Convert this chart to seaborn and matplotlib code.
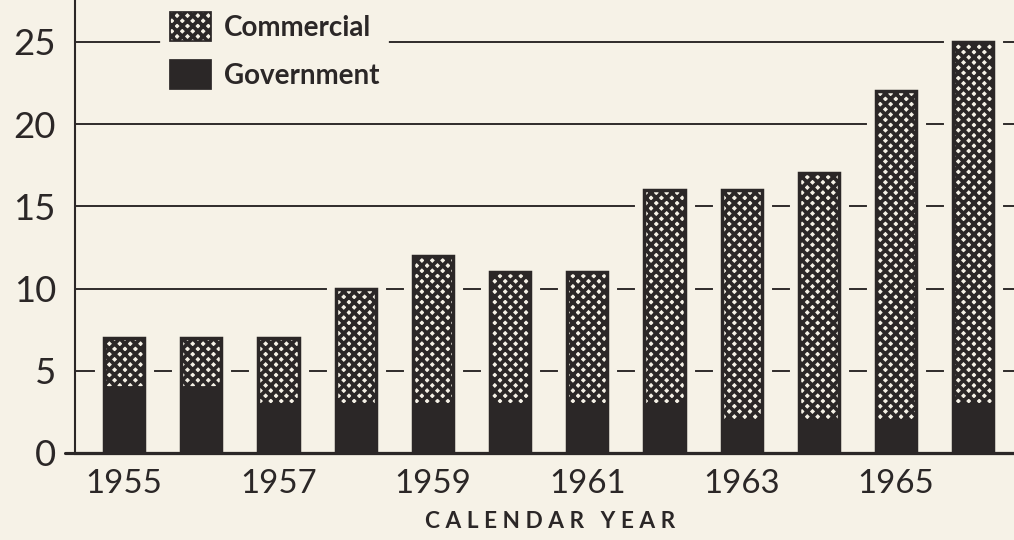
import matplotlib
matplotlib.use("Agg")
import matplotlib.pyplot as plt
from matplotlib.patches import Patch
import seaborn as sns
import pandas as pd

# data
years = [1955, 1956, 1957, 1958, 1959, 1960, 1961, 1962, 1963, 1964, 1965, 1966]
government = [4, 4, 3, 3, 3, 3, 3, 3, 2, 2, 2, 3]
commercial = [3, 3, 4, 7, 9, 8, 8, 13, 14, 15, 20, 22]
year_labels = ["1955", "1957", "1959", "1961", "1963", "1965"]
y_ticks = [0, 5, 10, 15, 20, 25]

bg = "#f6f2e7"
dark = "#2b2727"

df = pd.DataFrame({"year": [str(y) for y in years],
                   "government": government,
                   "commercial": commercial})
df["total"] = df["government"] + df["commercial"]

sns.set_theme(style="white")
plt.rcParams["font.family"] = ["Lato", "DejaVu Sans"]
plt.rcParams["hatch.linewidth"] = 2.15

fig = plt.figure(figsize=(8.12, 4.32), dpi=125, facecolor=bg)
ax = fig.add_axes([75 / 1015, 87 / 540, 940 / 1015, 453 / 540])
ax.set_facecolor(bg)

# halo behind each bar so the grid lines stop short of it
sns.barplot(data=df, x="year", y="total", color=bg, width=0.52, errorbar=None,
            edgecolor=bg, linewidth=11, saturation=1, ax=ax)
# commercial (hatched), stacked on top of government
sns.barplot(data=df, x="year", y="total", color=bg, width=0.52, errorbar=None,
            edgecolor=dark, linewidth=2.0, hatch="xxxx", saturation=1, ax=ax)
sns.barplot(data=df, x="year", y="government", color=dark, width=0.52, errorbar=None,
            edgecolor=dark, linewidth=1.0, saturation=1, ax=ax)

ax.set_xlim(-0.635, 11.54)
ax.set_ylim(0, 27.55)
ax.set_axisbelow(True)
ax.yaxis.grid(True, color=dark, linewidth=1.1)
ax.xaxis.grid(False)

ax.set_yticks(y_ticks)
ax.set_yticklabels([str(t) for t in y_ticks])
ax.set_xticks([years.index(int(y)) for y in year_labels])
ax.set_xticklabels(year_labels)
ax.tick_params(axis="y", length=0, pad=11, labelsize=21, labelcolor=dark)
ax.tick_params(axis="x", length=0, pad=9, labelsize=19, labelcolor=dark)
ax.set_xlabel("")
ax.set_ylabel("")

for s in ["top", "right"]:
    ax.spines[s].set_visible(False)
ax.spines["left"].set_color(dark)
ax.spines["left"].set_linewidth(1.2)
ax.spines["bottom"].set_color(dark)
ax.spines["bottom"].set_linewidth(1.8)
ax.spines["bottom"].set_zorder(5)
ax.axhline(0, xmin=-10 / 940, xmax=1, color=dark, linewidth=1.8, clip_on=False, zorder=5)

handles = [Patch(facecolor=bg, edgecolor=dark, hatch="xxxx", linewidth=1.0, label="Commercial"),
           Patch(facecolor=dark, edgecolor=dark, label="Government")]
leg = ax.legend(handles=handles, loc="upper left", bbox_to_anchor=(0.077, 1.022),
                frameon=True, facecolor=bg, edgecolor=bg, framealpha=1,
                fancybox=False, handlelength=1.5, handleheight=1.2,
                handletextpad=0.45, labelspacing=0.7, borderpad=0.3,
                prop={"weight": "bold", "size": 16})
for t in leg.get_texts():
    t.set_color(dark)

fig.text(550 / 1015, 18 / 540, "C A L E N D A R   Y E A R", ha="center", va="center",
         fontsize=13, fontweight="bold", color=dark)

fig.savefig("out.png", dpi=125, facecolor=bg)
